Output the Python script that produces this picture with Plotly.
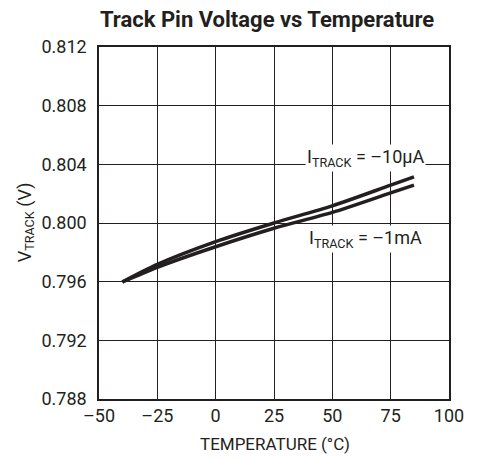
import plotly.graph_objects as go

temps = [-40, -25, 0, 25, 50, 75, 85]
v_10ua = [0.79598, 0.79718, 0.79873, 0.80000, 0.80117, 0.80258, 0.80314]
v_1ma = [0.79598, 0.79698, 0.79838, 0.79964, 0.80072, 0.80205, 0.80258]
x_ticks = [-50, -25, 0, 25, 50, 75, 100]
y_ticks = [0.788, 0.792, 0.796, 0.800, 0.804, 0.808, 0.812]

FONT = "Roboto, Liberation Sans, sans-serif"
INK = "#231f20"

fig = go.Figure()
for ys in (v_10ua, v_1ma):
    fig.add_trace(go.Scatter(x=temps, y=ys, mode="lines",
                             line=dict(color=INK, width=3.5, shape="spline", smoothing=0.8),
                             showlegend=False, hoverinfo="skip"))

fig.add_annotation(x=64, y=0.80441, text="I<sub>TRACK</sub> = –10µA", showarrow=False,
                   bgcolor="white", font=dict(family=FONT, size=18, color=INK), borderpad=1)
fig.add_annotation(x=64.3, y=0.79893, text="I<sub>TRACK</sub> = –1mA", showarrow=False,
                   bgcolor="white", font=dict(family=FONT, size=18, color=INK), borderpad=1)

# axis titles
fig.add_annotation(xref="paper", yref="paper", x=0.503, y=0, yshift=-45, yanchor="middle",
                   text="TEMPERATURE (°C)", showarrow=False,
                   font=dict(family=FONT, size=17, color=INK))
fig.add_annotation(xref="paper", yref="paper", x=0, xshift=-73, y=0.502, xanchor="center",
                   yanchor="middle", textangle=-90, text="V<sub>TRACK</sub> (V)", showarrow=False,
                   font=dict(family=FONT, size=18, color=INK))

axis_common = dict(showgrid=True, gridcolor=INK, gridwidth=1, showline=True, linecolor=INK,
                   linewidth=1.5, mirror=True, ticks="", zeroline=False, automargin=False,
                   tickfont=dict(family=FONT, size=18, color=INK))

fig.update_layout(
    width=471, height=452,
    margin=dict(l=91, r=30, t=39, b=61),
    paper_bgcolor="white", plot_bgcolor="white",
    title=dict(text="<b>Track Pin Voltage vs Temperature</b>", x=259 / 471, xanchor="center",
               y=0.976, yanchor="middle", font=dict(family=FONT, size=22, color=INK)),
    xaxis=dict(range=[-50, 100], tickvals=x_ticks, ticktext=[str(t).replace("-", "–") for t in x_ticks],
               ticklabelstandoff=0, **axis_common),
    yaxis=dict(range=[0.788, 0.812], tickvals=y_ticks, ticktext=[f"{t:.3f}" for t in y_ticks],
               ticklabelstandoff=7, **axis_common),
)

fig.write_html("out.html")
